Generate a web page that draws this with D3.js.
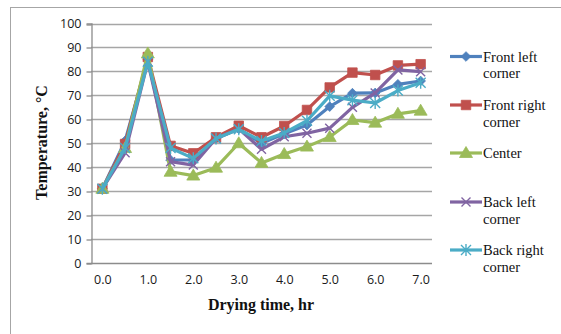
<!DOCTYPE html>
<html>
<head>
<meta charset="utf-8">
<script src="https://cdn.jsdelivr.net/npm/d3@7"></script>
<style>
  html, body { margin: 0; padding: 0; background: #fff; }
  svg { display: block; }
</style>
</head>
<body>
<svg id="chart" width="561" height="334"></svg>
<script>
// Drying time (hr) sampled every half hour
const times = [0.0, 0.5, 1.0, 1.5, 2.0, 2.5, 3.0, 3.5, 4.0, 4.5, 5.0, 5.5, 6.0, 6.5, 7.0];
const xTickLabels = ["0.0", "1.0", "2.0", "3.0", "4.0", "5.0", "6.0", "7.0"];
const yTicks = [0, 10, 20, 30, 40, 50, 60, 70, 80, 90, 100];

// Temperature (°C) at each measuring position
const frontLeft  = [31, 51, 85, 43, 43, 52, 56, 50, 54, 57.6, 65.3, 70.9, 71, 74.6, 76];
const frontRight = [31, 49.7, 86, 48.9, 45.8, 52.5, 57.3, 52.5, 57.2, 63.9, 73.3, 79.5, 78.5, 82.5, 83];
const center     = [31, 48, 87.5, 38.1, 36.5, 39.8, 50, 41.8, 45.5, 48.6, 52.6, 59.7, 58.6, 62.3, 63.6];
const backLeft   = [31, 46, 84, 42.3, 40.9, 52, 56, 47.5, 52.7, 54.2, 56.3, 65, 71, 80.6, 79.9];
const backRight  = [31, 48, 84, 48, 43.7, 52, 55.8, 50.9, 54.3, 59.4, 69.8, 68, 66.8, 72, 75.3];

const seriesNames = ["Front left corner", "Front right corner", "Center", "Back left corner", "Back right corner"];
const seriesValues = [frontLeft, frontRight, center, backLeft, backRight];
const seriesColors = ["#4F81BD", "#C0504D", "#9BBB59", "#8064A2", "#4BACC6"];
const seriesMarkers = ["diamond", "square", "triangle", "x", "star"];

const svg = d3.select("#chart");

// outer chart frame
svg.append("rect")
  .attr("x", 10.5).attr("y", 7.5)
  .attr("width", 570).attr("height", 340)
  .attr("fill", "none").attr("stroke", "#a6a6a6").attr("stroke-width", 1);

const plot = { left: 91, right: 432, top: 23.5, bottom: 263 };

const x = d3.scalePoint()
  .domain(times)
  .range([plot.left, plot.right])
  .padding(0.5);

const y = d3.scaleLinear()
  .domain([0, 100])
  .range([plot.bottom, plot.top]);

// horizontal gridlines
svg.append("g")
  .selectAll("line")
  .data(yTicks.filter(d => d > 0))
  .join("line")
  .attr("x1", plot.left).attr("x2", plot.right)
  .attr("y1", d => Math.round(y(d)) + 0.5).attr("y2", d => Math.round(y(d)) + 0.5)
  .attr("stroke", "#a6a6a6").attr("stroke-width", 1.3);

// y axis
const yAxis = svg.append("g")
  .attr("transform", `translate(${plot.left + 0.5},0)`)
  .call(d3.axisLeft(y).tickValues(yTicks).tickSize(5).tickPadding(5).tickFormat(d3.format("d")));
yAxis.select(".domain").attr("stroke", "#8c8c8c").attr("stroke-width", 1.3);
yAxis.selectAll(".tick line").attr("stroke", "#8c8c8c").attr("stroke-width", 1.3)
  .attr("transform", d => `translate(0,${Math.round(y(d)) + 0.5 - y(d)})`);
yAxis.selectAll(".tick text")
  .attr("font-family", "'Open Sans', sans-serif").attr("font-size", 12.5).attr("fill", "#1a1a1a");

// x axis (labels on whole hours)
const xAxis = svg.append("g")
  .attr("transform", `translate(0,${Math.round(plot.bottom) + 0.5})`)
  .call(d3.axisBottom(x)
    .tickValues(times.filter(t => Number.isInteger(t)))
    .tickSize(0).tickPadding(12)
    .tickFormat(d => xTickLabels[d]));
xAxis.select(".domain").attr("stroke", "#8c8c8c").attr("stroke-width", 1.3)
  .attr("d", `M${plot.left},0H${plot.right}`);
xAxis.selectAll(".tick text")
  .attr("font-family", "'Open Sans', sans-serif").attr("font-size", 12.5).attr("fill", "#1a1a1a");

// axis titles
svg.append("text")
  .attr("x", 261).attr("y", 310)
  .attr("text-anchor", "middle")
  .attr("font-family", "'Liberation Serif', 'Times New Roman', serif")
  .attr("font-weight", "bold").attr("font-size", 16).attr("fill", "#111")
  .text("Drying time, hr");

svg.append("text")
  .attr("transform", "translate(47,142.5) rotate(-90)")
  .attr("text-anchor", "middle")
  .attr("font-family", "'Liberation Serif', 'Times New Roman', serif")
  .attr("font-weight", "bold").attr("font-size", 16).attr("fill", "#111")
  .text("Temperature, \u00B0C");

// marker shapes
function markerPath(kind) {
  switch (kind) {
    case "diamond": return d3.symbol(d3.symbolDiamond2, 60)();
    case "square": return d3.symbol(d3.symbolSquare, 90)();
    case "triangle": return "M0,-6.5L6.5,4.5L-6.5,4.5Z";
    case "x": return "M-4.5,-4.5L4.5,4.5M-4.5,4.5L4.5,-4.5";
    case "star": return "M-5,-5L5,5M-5,5L5,-5M0,-6V6";
  }
}
function drawMarker(g, kind, color) {
  const p = g.append("path").attr("d", markerPath(kind));
  if (kind === "x" || kind === "star") {
    p.attr("fill", "none").attr("stroke", color).attr("stroke-width", 1.4);
  } else {
    p.attr("fill", color).attr("stroke", color).attr("stroke-width", 0.8);
  }
}

const line = d3.line()
  .x((d, i) => x(times[i]))
  .y(d => y(d));

// series lines with markers
seriesValues.forEach((vals, s) => {
  const g = svg.append("g");
  g.append("path")
    .attr("d", line(vals))
    .attr("fill", "none")
    .attr("stroke", seriesColors[s])
    .attr("stroke-width", 3.2)
    .attr("stroke-linejoin", "round");
  vals.forEach((v, i) => {
    const m = g.append("g").attr("transform", `translate(${x(times[i])},${y(v)})`);
    drawMarker(m, seriesMarkers[s], seriesColors[s]);
  });
});

// legend
const legendRows = [
  { lines: ["Front left", "corner"], y: 56.5 },
  { lines: ["Front right", "corner"], y: 105 },
  { lines: ["Center"], y: 153 },
  { lines: ["Back left", "corner"], y: 202 },
  { lines: ["Back right", "corner"], y: 250 }
];
legendRows.forEach((row, s) => {
  const g = svg.append("g");
  g.append("line")
    .attr("x1", 450).attr("x2", 482)
    .attr("y1", row.y).attr("y2", row.y)
    .attr("stroke", seriesColors[s]).attr("stroke-width", 3.2);
  const m = g.append("g").attr("transform", `translate(466,${row.y})`);
  drawMarker(m, seriesMarkers[s], seriesColors[s]);
  const t = g.append("text")
    .attr("x", 483).attr("y", row.y + 5)
    .attr("font-family", "'Liberation Serif', 'Times New Roman', serif")
    .attr("font-size", 14.5).attr("fill", "#111");
  row.lines.forEach((ln, k) => {
    t.append("tspan").attr("x", 483).attr("dy", k === 0 ? 0 : 16.5).text(ln);
  });
});
</script>
</body>
</html>
